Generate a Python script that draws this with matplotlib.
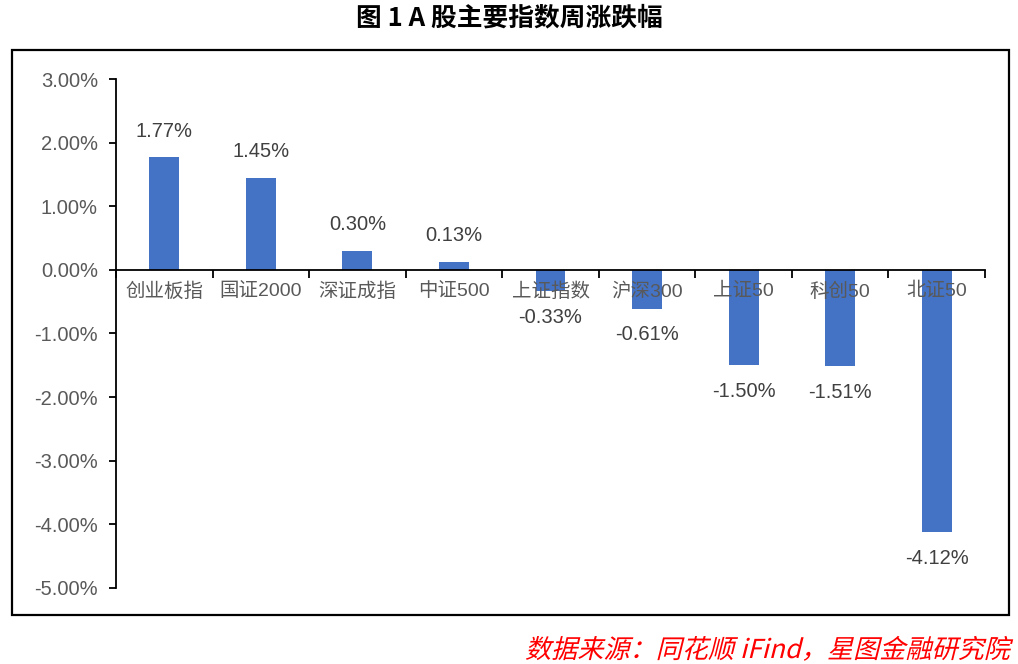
import numpy as np
import matplotlib.pyplot as plt
from matplotlib.patches import Rectangle, PathPatch
from matplotlib.textpath import TextPath
from matplotlib.font_manager import FontProperties
from matplotlib.transforms import Affine2D
from matplotlib.ticker import FuncFormatter, FixedLocator

plt.rcParams['font.family'] = ['Liberation Sans', 'Noto Sans CJK SC', 'DejaVu Sans']

# weekly change of major A-share indices (%)
names = ['创业板指', '国证2000', '深证成指', '中证500', '上证指数', '沪深300', '上证50', '科创50', '北证50']
changes = [1.77, 1.45, 0.30, 0.13, -0.33, -0.61, -1.50, -1.51, -4.12]
yticks = [3, 2, 1, 0, -1, -2, -3, -4, -5]

title = '图 1 A 股主要指数周涨跌幅'
source = '数据来源：同花顺 iFind，星图金融研究院'

fig = plt.figure(figsize=(10.18, 6.64), dpi=100)
ax = fig.add_axes([0.114, 0.1145, 0.8536, 0.7665])

x = np.arange(len(names))
ax.bar(x, changes, width=0.31, color='#4472C4', zorder=2)

for xi, v in zip(x, changes):
    off = 12 if v > 0 else -12
    ax.annotate(f'{v:.2f}%', (xi, v), xytext=(0, off), textcoords='offset points',
                ha='center', va='bottom' if v > 0 else 'top',
                fontsize=14.5, color='#404040', zorder=4)

ax.set_xlim(-0.5, len(names) - 0.5)
ax.set_ylim(-5, 3)
ax.set_yticks(yticks)
ax.yaxis.set_major_formatter(FuncFormatter(lambda v, p: f'{v:.2f}%'))
ax.tick_params(axis='y', direction='out', length=5, width=1.3, labelsize=14.5,
               labelcolor='#595959', pad=8)

ax.set_xticks(x)
ax.set_xticklabels(names)
ax.xaxis.set_minor_locator(FixedLocator(np.arange(len(names) + 1) - 0.5))
ax.tick_params(axis='x', which='major', length=0, labelsize=14, labelcolor='#595959', pad=9)
ax.tick_params(axis='x', which='minor', direction='out', length=6, width=1.3)
for lab in ax.get_xticklabels():
    lab.set_zorder(5)

ax.spines['bottom'].set_position(('data', 0))
ax.spines['bottom'].set_linewidth(1.3)
ax.spines['left'].set_linewidth(1.3)
ax.spines['top'].set_visible(False)
ax.spines['right'].set_visible(False)
ax.set_axisbelow(False)

# outer frame
fig.patches.append(Rectangle((12 / 1018, 1 - 615 / 664), 997 / 1018, 565 / 664,
                             transform=fig.transFigure, fill=False,
                             edgecolor='black', linewidth=1.6))

fig.text(0.5, 1 - 18 / 664, title, ha='center', va='center', fontsize=18.5,
         fontweight='bold', family=['Noto Sans CJK SC'])

# source note, slanted by hand since the CJK font has no italic
fp = FontProperties(family='Noto Sans CJK SC', size=16)
tp = TextPath((0, 0), source, prop=fp)
ext = tp.get_extents()
sx = 483 / ext.width
tr = Affine2D().skew_deg(14, 0).scale(sx).translate(525, 6)
fig.patches.append(PathPatch(tr.transform_path(tp), facecolor='red', edgecolor='none',
                             transform=None))

fig.savefig('out.png', dpi=100)
